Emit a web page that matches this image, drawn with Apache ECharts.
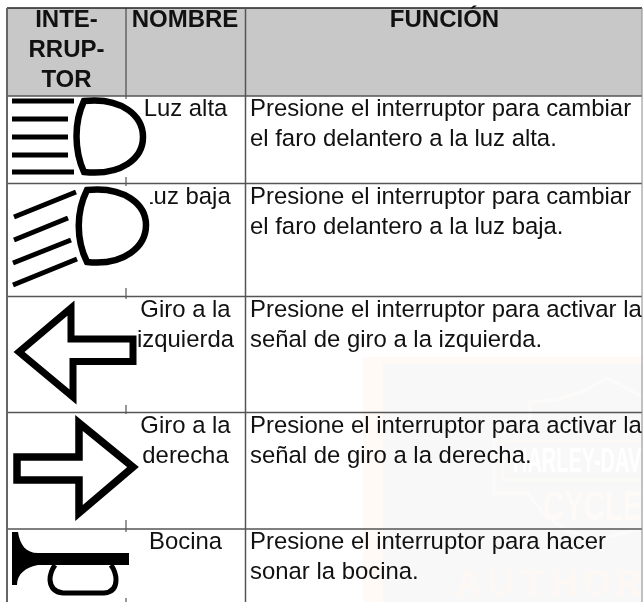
<!DOCTYPE html>
<html>
<head>
<meta charset="utf-8">
<style>html,body{margin:0;padding:0;background:#fff}#main{width:643px;height:602px}</style>
<script src="https://cdn.jsdelivr.net/npm/echarts@6/dist/echarts.min.js"></script>
</head>
<body>
<div id="main"></div>
<script>
// table content
var headers = [['INTE-', 'RRUP-', 'TOR'], ['NOMBRE'], ['FUNCIÓN']];
var names = [['Luz alta'], ['Luz baja'], ['Giro a la', 'izquierda'], ['Giro a la', 'derecha'], ['Bocina']];
var functions = [
    ['Presione el interruptor para cambiar', 'el faro delantero a la luz alta.'],
    ['Presione el interruptor para cambiar', 'el faro delantero a la luz baja.'],
    ['Presione el interruptor para activar la', 'señal de giro a la izquierda.'],
    ['Presione el interruptor para activar la', 'señal de giro a la derecha.'],
    ['Presione el interruptor para hacer', 'sonar la bocina.']
];

// layout
var colX = [7, 126, 245.5, 642];
var rowY = [8, 96, 183.5, 296.5, 412.5, 529, 602];
var lineH = 30;
var FONT = '"Liberation Sans", Arial, sans-serif';

// white boxes of the icon images, they hide the column line and part of the names
var covers = [[9, 99, 136, 78], [9, 186, 141, 102], [9, 299, 128, 106], [9, 414, 128, 106], [9, 532, 128, 66]];

// icons, drawn as paths in page pixels
var icons = [
    [
        {d: 'M12 101L74 101M12 119L68 119M12 137L68 137M12 155L68 155M12 172L74 172', w: 5},
        {d: 'M84 101C122 97 143 116 143 137C143 158 122 176 84 172C74 150 74 122 84 101Z', w: 6.5}
    ],
    [
        {d: 'M14 217L76 192M14 240L68 218M13 263L71 240M13 285L77 259', w: 5},
        {d: 'M87 190C125 186 146 205 146 225C146 246 125 266 87 262C76 240 76 212 87 190Z', w: 6.5}
    ],
    [{d: 'M19 352L71 308L71 339L133 339L133 361.5L73 361.5L73 397Z', w: 7}],
    [{d: 'M17 457L79 457L79 423L133 467L79 513L79 480L17 480Z', w: 7.5}],
    [
        {d: 'M55 565Q50 572 50 580Q51 592 63 593L104 593Q116 592 116 580Q116 572 111 565', w: 5},
        {fill: 'M12 532L18 532C20 545 26 553 38 553L129 553L129 565L38 565C26 567 17 574 17 585L12 585Z'}
    ]
];

function rowItem(params, api) {
    var c = [];
    var i = params.dataIndex;
    var top = api.coord([0, api.value(1)])[1];
    function put(lines, x, align) {
        lines.forEach(function (t, k) {
            c.push({
                type: 'text',
                style: {
                    text: t, x: x, y: top + 13.5 + k * lineH,
                    fontFamily: FONT, fontSize: 23.9,
                    fill: '#111', align: align, verticalAlign: 'middle'
                }
            });
        });
    }
    put(names[i], 185.5, 'center');
    put(functions[i], 250, 'left');
    var b = covers[i];
    c.push({type: 'rect', shape: {x: b[0], y: b[1], width: b[2], height: b[3]}, style: {fill: '#fff'}});
    icons[i].forEach(function (p) {
        if (p.fill) {
            c.push({type: 'path', shape: {pathData: p.fill}, style: {fill: '#000'}});
        } else {
            c.push({
                type: 'path',
                shape: {pathData: p.d},
                style: {fill: 'none', stroke: '#000', lineWidth: p.w, lineJoin: 'miter', miterLimit: 10}
            });
        }
    });
    return {type: 'group', children: c};
}

function line(x1, y1, x2, y2, color, w) {
    return {type: 'line', shape: {x1: x1, y1: y1, x2: x2, y2: y2}, style: {stroke: color, lineWidth: w}};
}

var myChart = echarts.init(document.getElementById('main'));

var gridLines = [];
rowY.slice(1, 6).forEach(function (y) {
    gridLines.push(line(colX[0], y, colX[3], y, '#555', 1.5));
});
gridLines.push(line(colX[0], 8, colX[3], 8, '#222', 1.5));
gridLines.push(line(colX[0], 8, colX[0], 602, '#666', 2));
gridLines.push(line(colX[2], 8, colX[2], 602, '#555', 1.5));
gridLines.push(line(colX[3], 8, colX[3], 602, '#888', 1));

var headerText = [];
[[66.5, 20], [185, 20], [444.5, 20]].forEach(function (p, i) {
    headers[i].forEach(function (t, k) {
        headerText.push({
            type: 'text',
            style: {
                text: t, x: p[0], y: p[1] + k * lineH,
                font: 'bold 24px ' + FONT,
                fill: '#111', align: 'center', verticalAlign: 'middle'
            }
        });
    });
});

// faint dealer stamp behind the table
var stamp = [
    {type: 'rect', shape: {x: 363, y: 357, width: 280, height: 245}, style: {fill: '#fffaf6'}},
    {type: 'rect', shape: {x: 383, y: 364, width: 260, height: 238}, style: {fill: '#f8f8f8'}},
    {
        type: 'polyline',
        shape: {points: [[643, 397], [607, 378], [580, 393], [555, 400], [530, 402], [530, 432], [494, 432], [494, 493], [527, 493], [545, 515], [565, 530], [597, 540], [643, 528]]},
        style: {fill: 'none', stroke: '#fdfbf9', lineWidth: 3}
    },
    {
        type: 'polyline',
        shape: {points: [[643, 441], [503, 441], [503, 480], [643, 480]]},
        style: {fill: 'none', stroke: '#fdf9f5', lineWidth: 2}
    },
    {
        type: 'text', x: 513, y: 462, scaleX: 0.57,
        style: {text: 'HARLEY-DAVIDSON', font: 'bold 35px ' + FONT, fill: '#ffffff', verticalAlign: 'middle'}
    },
    {
        type: 'text', x: 543, y: 508, scaleX: 0.7,
        style: {text: 'CYCLES', font: 'bold 42px ' + FONT, fill: '#fdfaf7', verticalAlign: 'middle'}
    }
];
'AUTHOR'.split('').forEach(function (ch, i) {
    stamp.push({
        type: 'text', x: 469 + i * 32, y: 586,
        style: {text: ch, font: 'bold 37px ' + FONT, fill: '#fdf8f4', align: 'center', verticalAlign: 'middle'}
    });
});

myChart.setOption({
    animation: false,
    backgroundColor: '#ffffff',
    grid: {left: 0, right: 0, top: 0, bottom: 0},
    xAxis: {type: 'value', min: 0, max: 643, show: false},
    yAxis: {type: 'value', min: 0, max: 602, inverse: true, show: false},
    graphic: {
        elements: [
            {type: 'group', z: -10, silent: true, children: stamp},
            {type: 'rect', silent: true, z: -9, shape: {x: 7, y: 8, width: 635, height: 88}, style: {fill: '#c8c8c8'}},
            {type: 'line', silent: true, z: -8, shape: {x1: colX[1], y1: 8, x2: colX[1], y2: 602}, style: {stroke: '#333', lineWidth: 1}},
            {type: 'group', z: 100, silent: true, children: gridLines.concat(headerText)}
        ]
    },
    series: [{
        type: 'custom',
        coordinateSystem: 'cartesian2d',
        silent: true,
        clip: false,
        data: names.map(function (n, i) { return [0, rowY[i + 1]]; }),
        renderItem: rowItem
    }]
});
</script>
</body>
</html>
